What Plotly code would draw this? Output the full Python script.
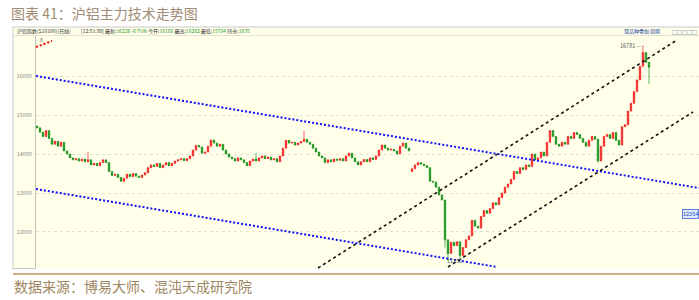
import plotly.graph_objects as go

# ---------------- data ----------------
closes = [
    14670, 14560, 14450, 14600, 14400, 14250, 14330, 14200, 14300, 14080,
    14000, 13900, 13850, 13880, 13820, 13870, 13800, 13850, 13720, 13760,
    13700, 13780, 13850, 13780, 13550, 13450, 13480, 13400, 13300, 13380,
    13480, 13420, 13500, 13430, 13400, 13460, 13520, 13650, 13720, 13680,
    13760, 13650, 13720, 13780, 13700, 13760, 13820, 13850, 13880, 13830,
    13880, 13950, 14100, 14220, 14180, 14020, 14050, 14200, 14360, 14280,
    14200, 14250, 14100, 14000, 13920, 13880, 13820, 13900, 13850, 13780,
    13700, 13820, 13870, 13820, 13900, 13950, 13880, 13920, 13850, 13880,
    13800, 13950, 14150, 14350, 14280, 14300, 14230, 14280, 14320, 14380,
    14300, 14250, 14150, 14050, 13950, 13900, 13780, 13850, 13800, 13870,
    13840, 13880, 13820, 13950, 14020, 13900, 13800, 13720, 13800, 13860,
    13800, 13900, 13860, 13950, 14100, 14230, 14150, 14100, 14120, 14080,
    14000, 14200, 14280, 14150, 14080, 13620, 13720, 13780, 13740, 13700,
    13650, 13300, 13280, 13150, 12950, 12820, 11800, 11450, 11740, 11650,
    11750, 11400, 11600, 11800, 11900, 12300, 12150, 12100, 12400, 12550,
    12480, 12600, 12750, 12700, 12880, 13000, 13150, 13230, 13350, 13550,
    13500, 13650, 13600, 13720, 13680, 14000, 13850, 13900, 14050, 13950,
    14300, 14600, 14450, 14250, 14200, 14300, 14250, 14450, 14400, 14550,
    14500, 14400, 14300, 14200, 14350, 14450, 14380, 13820, 14200, 14450,
    14500, 14400, 14550, 14350, 14230, 14700, 14750, 15100, 15300, 15600,
    15900, 16250, 16600, 16350, 16226,
]
first_open = 14720
gap_opens = {125: 13550}          # open prices that differ from previous close
high_wicks = {17: 14050, 73: 14020, 89: 14600, 202: 16781}
low_wicks = {136: 11600, 137: 11256, 141: 11330, 187: 13780, 204: 15800}

y_ticks = [12000, 13000, 14000, 15000, 16000]

# trend lines: (start index, start price, end index, end price)
red_line = (-0.33, 16744, 5.0, 16897)
blue_upper = (-0.33, 16000, 220.67, 13128)
blue_lower = (-0.33, 13103, 153.33, 11103)
black_upper = (93.67, 11077, 213.33, 16923)
black_lower = (137.0, 11103, 218.67, 15077)

high_label = "16781"
low_label = "11256"
right_label = "12354"

title_text = "图表 41：沪铝主力技术走势图"
source_text = "数据来源：博易大师、混沌天成研究院"
header_left = "沪铝指数(S10100)(日线)"
header_time = "[12:51:30]"
header_items = [("最新:", "16226 -6 FUN"), ("今开:", "16168"), ("最高:", "16282"),
                ("最低:", "15794"), ("持仓:", "1635")]

# ---------------- build OHLC ----------------
idx = list(range(len(closes)))
opens = []
for i, c in enumerate(closes):
    if i in gap_opens:
        opens.append(gap_opens[i])
    elif i == 0:
        opens.append(first_open)
    else:
        opens.append(closes[i - 1])
highs = [high_wicks.get(i, max(o, c)) for i, (o, c) in enumerate(zip(opens, closes))]
lows = [low_wicks.get(i, min(o, c)) for i, (o, c) in enumerate(zip(opens, closes))]

W, H = 699, 300
L, R, T, B = 36, 0, 36, 31
PW, PH = W - L - R, H - T - B


def px(xp):
    return (xp - L) / PW


def py(yp):
    return (H - B - yp) / PH


BG = "#FFFFEA"
fig = go.Figure()
fig.add_trace(go.Candlestick(
    x=idx, open=opens, high=highs, low=lows, close=closes,
    increasing=dict(line=dict(color="#F52020", width=0.7), fillcolor="#F52020"),
    decreasing=dict(line=dict(color="#159015", width=0.7), fillcolor="#159015"),
    whiskerwidth=0, showlegend=False, hoverinfo="skip",
))

def add_line(seg, color, dash, width):
    fig.add_trace(go.Scatter(
        x=[seg[0], seg[2]], y=[seg[1], seg[3]], mode="lines",
        line=dict(color=color, dash=dash, width=width),
        showlegend=False, hoverinfo="skip"))

add_line(red_line, "#FF0000", "2px,2px", 2)
add_line(blue_upper, "#1010FF", "2px,2px", 2)
add_line(blue_lower, "#1010FF", "2px,2px", 2)
add_line(black_upper, "#111111", "3px,3px", 1.6)
add_line(black_lower, "#111111", "3px,3px", 1.6)

shapes = [
    dict(type="rect", xref="paper", yref="paper", x0=px(13), x1=px(699), y0=py(269), y1=py(27),
         fillcolor=BG, line=dict(width=0), layer="below"),
    dict(type="line", xref="paper", yref="paper", x0=px(13), x1=px(699), y0=py(27), y1=py(27),
         line=dict(color="#C8C8C8", width=1)),
    dict(type="line", xref="paper", yref="paper", x0=px(13), x1=px(699), y0=py(35.5), y1=py(35.5),
         line=dict(color="#E4E4D4", width=1)),
    dict(type="line", xref="paper", yref="paper", x0=px(13), x1=px(13), y0=py(269), y1=py(27),
         line=dict(color="#C8C8C8", width=1)),
    dict(type="line", xref="paper", yref="paper", x0=px(13), x1=px(36), y0=py(268.5), y1=py(268.5),
         line=dict(color="#C8C8C8", width=1)),
    dict(type="line", xref="paper", yref="paper", x0=px(13), x1=px(699), y0=py(274), y1=py(274),
         line=dict(color="#B8965A", width=1.5)),
]

ann = []
def text(x, y, s, size, color, xanchor="left", **kw):
    ann.append(dict(xref="paper", yref="paper", x=px(x), y=py(y), text=s, showarrow=False,
                    xanchor=xanchor, yanchor="middle", font=dict(size=size, color=color), **kw))

text(9, 13, title_text, 14, "#A08C74")
text(12, 286, source_text, 14, "#9E8660")
text(15, 31, header_left, 5, "#333333")
hdr = header_time + " " + " ".join(
    f"{k}<span style='color:#2A9A2A'>{v}</span>" for k, v in header_items)
text(79, 31, hdr, 5, "#333333")
text(622, 31, "双品种叠加", 5, "#2040A0")
text(648, 31, "周期", 5, "#2040A0")
text(670, 31, "□□□□□", 5, "#2040A0")
text(38, 39, "8", 5, "#555555")
ann.append(dict(x=202, y=16781, xref="x", yref="y", text=high_label + " —", showarrow=False,
                xanchor="right", yanchor="middle", font=dict(size=5.5, color="#555555")))
ann.append(dict(x=136, y=11256, xref="x", yref="y", text=low_label, showarrow=False,
                xanchor="left", yanchor="middle", font=dict(size=5.5, color="#555555")))
ann.append(dict(xref="paper", yref="paper", x=px(682), y=py(214), text=right_label, showarrow=False,
                xanchor="left", yanchor="middle", font=dict(size=5.5, color="#2050C0"),
                bgcolor="#DDE8FF", bordercolor="#6080E0", borderwidth=1, borderpad=0))

fig.update_layout(
    width=W, height=H, margin=dict(l=L, r=R, t=T, b=B),
    paper_bgcolor="white", plot_bgcolor=BG,
    font=dict(family="Noto Sans CJK SC, sans-serif"),
    shapes=shapes, annotations=ann, showlegend=False,
    xaxis=dict(range=[-1 / 3, 220.67], showticklabels=False, showgrid=False, zeroline=False,
               rangeslider=dict(visible=False), showline=False, fixedrange=True),
    yaxis=dict(range=[11051, 17026], tickvals=y_ticks, ticktext=[str(v) for v in y_ticks],
               tickfont=dict(size=5.5, color="#8A8A8A"), showgrid=True, gridcolor="#E2E2CC",
               griddash="dot", gridwidth=1, zeroline=False, showline=True, linecolor="#C0C0C0",
               linewidth=1, ticks="", ticklabelstandoff=2),
)

fig.write_html("out.html")
